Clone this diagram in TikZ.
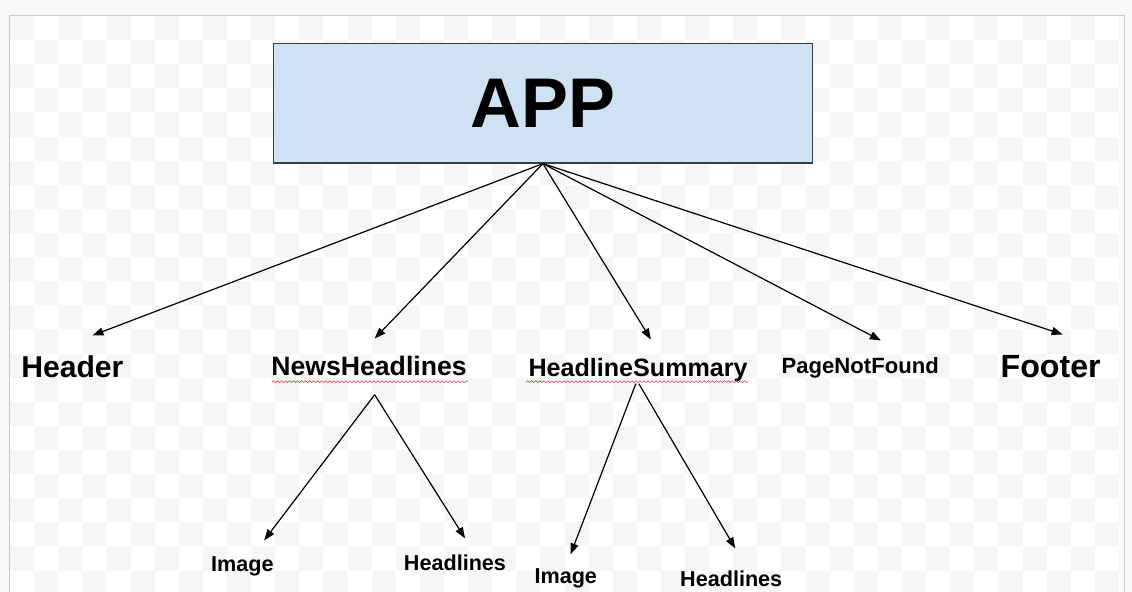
\documentclass[tikz,border=0pt]{standalone}
\usepackage{fontspec}
\setmainfont{Liberation Sans}
\usetikzlibrary{arrows.meta,decorations.pathmorphing,calc}
\definecolor{outerbg}{HTML}{F7F8FA}
\definecolor{checkgray}{HTML}{F6F6F6}
\definecolor{canvasline}{HTML}{C8C8C8}
\definecolor{appfill}{HTML}{CFE2F3}
\definecolor{appline}{HTML}{3C3C3C}
\definecolor{spellred}{HTML}{E8484A}
\tikzset{
  lbl/.style={anchor=base west,inner sep=0pt,font=\bfseries},
  conn/.style={line width=1.2pt,-{Triangle[length=11pt,width=8pt]}},
  squiggle/.style={draw=spellred,line width=0.6pt,decorate,decoration={snake,amplitude=0.9pt,segment length=4pt}}
}
\begin{document}
\begin{tikzpicture}[x=1pt,y=-1pt]
\useasboundingbox (0,0) rectangle (1127,589);
\fill[outerbg] (0,0) rectangle (1127,589);
\fill[white] (9.5,15.5) rectangle (1119.5,592);
\begin{scope}
\clip (10,16) rectangle (1115,589);
\foreach \i in {0,...,46}{
  \foreach \j in {0,...,24}{
    \pgfmathtruncatemacro{\myparity}{mod(\i+\j,2)}
    \ifnum\myparity=0
      \fill[checkgray] (10+24*\i,16+24*\j) rectangle ++(24,24);
    \fi
  }
}
\end{scope}
\draw[canvasline,line width=1pt] (9.5,592) -- (9.5,15.5) -- (1119.5,15.5) -- (1119.5,592);

% APP box
\node[draw=appline,fill=appfill,line width=1.3pt,minimum width=537pt,minimum height=119pt,inner sep=0pt,
      font=\bfseries\fontsize{70}{80}\selectfont] (app) at (540.5,102.75) {APP};

% labels
\node[lbl,font=\bfseries\fontsize{30}{36}\selectfont] (hdr) at (21,376) {Header};
\node[lbl,font=\bfseries\fontsize{26.5}{32}\selectfont] (nh) at (270,374) {NewsHeadlines};
\node[lbl,font=\bfseries\fontsize{25}{30}\selectfont] (hs) at (526,375) {HeadlineSummary};
\node[lbl,font=\bfseries\fontsize{22}{26}\selectfont] (pnf) at (778,372) {PageNotFound};
\node[lbl,font=\bfseries\fontsize{32}{38}\selectfont] (ftr) at (996,376) {Footer};
\node[lbl,font=\bfseries\fontsize{21.5}{26}\selectfont] (img1) at (210,569) {Image};
\node[lbl,font=\bfseries\fontsize{21.5}{26}\selectfont] (hl1) at (402,568) {Headlines};
\node[lbl,font=\bfseries\fontsize{21.5}{26}\selectfont] (img2) at (532,581) {Image};
\node[lbl,font=\bfseries\fontsize{21.5}{26}\selectfont] (hl2) at (677,584) {Headlines};

% spell-check underlines
\draw[squiggle] ($(nh.base west)+(1,6)$) -- ($(nh.base east)+(1,6)$);
\draw[squiggle] ($(hs.base west)+(-2,5)$) -- ($(hs.base east)+(0,5)$);

% connector end points
\coordinate (hdrtip) at (92,334);
\coordinate (nhtip) at (373,337);
\coordinate (hstip) at (648,338);
\coordinate (pnftip) at (877,339);
\coordinate (ftrtip) at (1058,333);
\coordinate (nhstart) at (373,393);
\coordinate (hsstartl) at (633,382);
\coordinate (hsstartr) at (636,382);
\coordinate (img1tip) at (263,538);
\coordinate (hl1tip) at (463,536);
\coordinate (img2tip) at (568,552);
\coordinate (hl2tip) at (732,546);

% connectors
\draw[conn] (app.south) -- (hdrtip);
\draw[conn] (app.south) -- (nhtip);
\draw[conn] (app.south) -- (hstip);
\draw[conn] (app.south) -- (pnftip);
\draw[conn] (app.south) -- (ftrtip);
\draw[conn] (nhstart) -- (img1tip);
\draw[conn] (nhstart) -- (hl1tip);
\draw[conn] (hsstartl) -- (img2tip);
\draw[conn] (hsstartr) -- (hl2tip);
\end{tikzpicture}
\end{document}
